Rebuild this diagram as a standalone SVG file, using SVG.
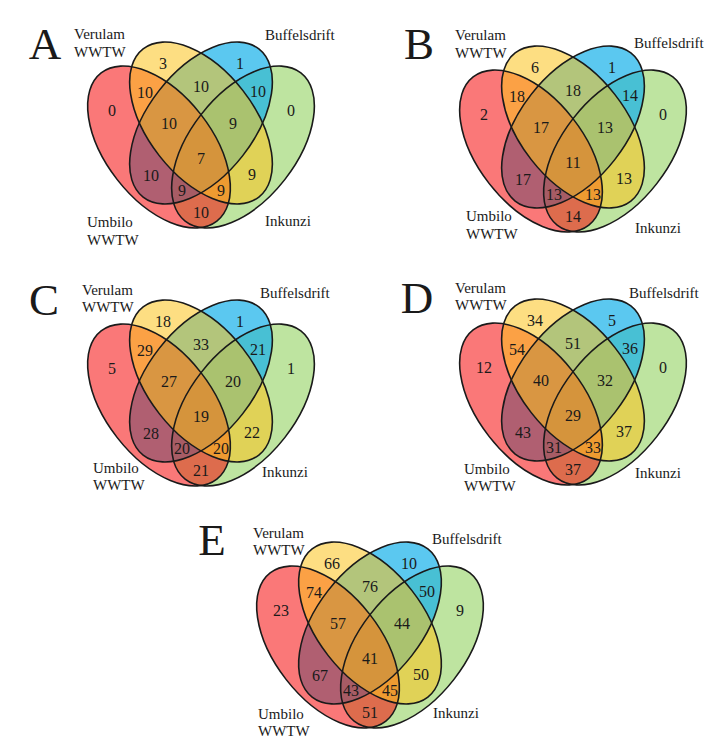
<svg xmlns="http://www.w3.org/2000/svg" xmlns:xlink="http://www.w3.org/1999/xlink" width="725" height="750" viewBox="0 0 725 750">
<style>
text{font-family:"Liberation Serif","Times New Roman",serif;fill:#1a1a1a}
.n{font-size:16px;text-anchor:middle}
.lb{font-size:15px}
.pl{font-size:45px;text-anchor:middle}
.fg{fill:#7DC941;fill-opacity:.5}
.fb{fill:#16B1EA;fill-opacity:.7}
.fr{fill:#F60909;fill-opacity:.55}
.fy{fill:#FBC31C;fill-opacity:.55}
.ol{fill:none;stroke:#1a1a1a;stroke-width:1.6}
</style>
<defs>
<ellipse id="eg" cx="42" cy="24" rx="94" ry="53" transform="rotate(-52 42 24)"/>
<ellipse id="eb" cx="0" cy="0" rx="94" ry="53" transform="rotate(-52)"/>
<ellipse id="er" cx="-42" cy="24" rx="94" ry="53" transform="rotate(52 -42 24)"/>
<ellipse id="ey" cx="0" cy="0" rx="94" ry="53" transform="rotate(52)"/>
<g id="venn">
<use xlink:href="#eg" class="fg"/>
<use xlink:href="#eb" class="fb"/>
<use xlink:href="#er" class="fr"/>
<use xlink:href="#ey" class="fy"/>
<g class="ol">
<use xlink:href="#eg"/><use xlink:href="#eb"/><use xlink:href="#er"/><use xlink:href="#ey"/>
</g>
</g>
</defs>

<g id="panel-A">
<g transform="translate(201,123)">
<use xlink:href="#venn"/>
<g class="counts">
<text class="n" x="-38" y="-54">3</text>
<text class="n" x="39" y="-54">1</text>
<text class="n" x="-56" y="-25">10</text>
<text class="n" x="0" y="-31">10</text>
<text class="n" x="57" y="-26">10</text>
<text class="n" x="-89" y="-7">0</text>
<text class="n" x="90" y="-7">0</text>
<text class="n" x="-32" y="6">10</text>
<text class="n" x="32" y="6">9</text>
<text class="n" x="0" y="41">7</text>
<text class="n" x="-50" y="58">10</text>
<text class="n" x="51" y="57">9</text>
<text class="n" x="-19" y="73">9</text>
<text class="n" x="20" y="73">9</text>
<text class="n" x="0" y="95">10</text>
</g>
</g>
<text class="pl" x="45" y="59">A</text>
<text class="lb" x="74" y="39">Verulam</text>
<text class="lb" x="74" y="57">WWTW</text>
<text class="lb" x="265" y="40">Buffelsdrift</text>
<text class="lb" x="87" y="227">Umbilo</text>
<text class="lb" x="87" y="245">WWTW</text>
<text class="lb" x="265" y="226">Inkunzi</text>
</g>

<g id="panel-B">
<g transform="translate(573,127)">
<use xlink:href="#venn"/>
<g class="counts">
<text class="n" x="-38" y="-54">6</text>
<text class="n" x="39" y="-54">1</text>
<text class="n" x="-56" y="-25">18</text>
<text class="n" x="0" y="-31">18</text>
<text class="n" x="57" y="-26">14</text>
<text class="n" x="-89" y="-7">2</text>
<text class="n" x="90" y="-7">0</text>
<text class="n" x="-32" y="6">17</text>
<text class="n" x="32" y="6">13</text>
<text class="n" x="0" y="41">11</text>
<text class="n" x="-50" y="58">17</text>
<text class="n" x="51" y="57">13</text>
<text class="n" x="-19" y="73">13</text>
<text class="n" x="20" y="73">13</text>
<text class="n" x="0" y="95">14</text>
</g>
</g>
<text class="pl" x="419" y="59">B</text>
<text class="lb" x="455" y="40">Verulam</text>
<text class="lb" x="455" y="58">WWTW</text>
<text class="lb" x="634" y="48">Buffelsdrift</text>
<text class="lb" x="466" y="221">Umbilo</text>
<text class="lb" x="466" y="239">WWTW</text>
<text class="lb" x="635" y="233">Inkunzi</text>
</g>

<g id="panel-C">
<g transform="translate(201,381)">
<use xlink:href="#venn"/>
<g class="counts">
<text class="n" x="-38" y="-54">18</text>
<text class="n" x="39" y="-54">1</text>
<text class="n" x="-56" y="-25">29</text>
<text class="n" x="0" y="-31">33</text>
<text class="n" x="57" y="-26">21</text>
<text class="n" x="-89" y="-7">5</text>
<text class="n" x="90" y="-7">1</text>
<text class="n" x="-32" y="6">27</text>
<text class="n" x="32" y="6">20</text>
<text class="n" x="0" y="41">19</text>
<text class="n" x="-50" y="58">28</text>
<text class="n" x="51" y="57">22</text>
<text class="n" x="-19" y="73">20</text>
<text class="n" x="20" y="73">20</text>
<text class="n" x="0" y="95">21</text>
</g>
</g>
<text class="pl" x="44" y="315">C</text>
<text class="lb" x="82" y="295">Verulam</text>
<text class="lb" x="82" y="312">WWTW</text>
<text class="lb" x="260" y="298">Buffelsdrift</text>
<text class="lb" x="93" y="473">Umbilo</text>
<text class="lb" x="93" y="490">WWTW</text>
<text class="lb" x="262" y="477">Inkunzi</text>
</g>

<g id="panel-D">
<g transform="translate(573,380)">
<use xlink:href="#venn"/>
<g class="counts">
<text class="n" x="-38" y="-54">34</text>
<text class="n" x="39" y="-54">5</text>
<text class="n" x="-56" y="-25">54</text>
<text class="n" x="0" y="-31">51</text>
<text class="n" x="57" y="-26">36</text>
<text class="n" x="-89" y="-7">12</text>
<text class="n" x="90" y="-7">0</text>
<text class="n" x="-32" y="6">40</text>
<text class="n" x="32" y="6">32</text>
<text class="n" x="0" y="41">29</text>
<text class="n" x="-50" y="58">43</text>
<text class="n" x="51" y="57">37</text>
<text class="n" x="-19" y="73">31</text>
<text class="n" x="20" y="73">33</text>
<text class="n" x="0" y="95">37</text>
</g>
</g>
<text class="pl" x="417" y="313">D</text>
<text class="lb" x="455" y="293">Verulam</text>
<text class="lb" x="455" y="310">WWTW</text>
<text class="lb" x="629" y="298">Buffelsdrift</text>
<text class="lb" x="464" y="474">Umbilo</text>
<text class="lb" x="464" y="491">WWTW</text>
<text class="lb" x="635" y="478">Inkunzi</text>
</g>

<g id="panel-E">
<g transform="translate(370,623)">
<use xlink:href="#venn"/>
<g class="counts">
<text class="n" x="-38" y="-54">66</text>
<text class="n" x="39" y="-54">10</text>
<text class="n" x="-56" y="-25">74</text>
<text class="n" x="0" y="-31">76</text>
<text class="n" x="57" y="-26">50</text>
<text class="n" x="-89" y="-7">23</text>
<text class="n" x="90" y="-7">9</text>
<text class="n" x="-32" y="6">57</text>
<text class="n" x="32" y="6">44</text>
<text class="n" x="0" y="41">41</text>
<text class="n" x="-50" y="58">67</text>
<text class="n" x="51" y="57">50</text>
<text class="n" x="-19" y="73">43</text>
<text class="n" x="20" y="73">45</text>
<text class="n" x="0" y="95">51</text>
</g>
</g>
<text class="pl" x="212" y="555">E</text>
<text class="lb" x="253" y="538">Verulam</text>
<text class="lb" x="253" y="555">WWTW</text>
<text class="lb" x="432" y="544">Buffelsdrift</text>
<text class="lb" x="258" y="719">Umbilo</text>
<text class="lb" x="258" y="736">WWTW</text>
<text class="lb" x="433" y="718">Inkunzi</text>
</g>

<g id="connectors"/>
</svg>
